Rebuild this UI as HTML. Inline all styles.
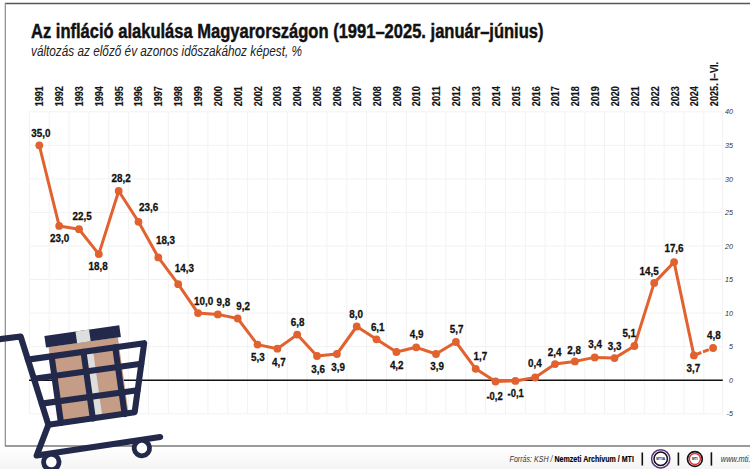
<!DOCTYPE html>
<html><head><meta charset="utf-8"><style>
html,body{margin:0;padding:0;background:#fff;}
body{width:750px;height:469px;overflow:hidden;}
svg{display:block;}
text{font-family:"Liberation Sans",sans-serif;}
</style></head><body>
<svg width="750" height="469" viewBox="0 0 750 469">
<defs><linearGradient id="fg" x1="0" y1="0" x2="0" y2="1"><stop offset="0" stop-color="#fff"/><stop offset="1" stop-color="#f4f4f4"/></linearGradient></defs>
<rect x="0" y="0" width="750" height="469" fill="#fff"/>
<rect x="0" y="446" width="750" height="23" fill="url(#fg)"/>

<line x1="5" y1="3.5" x2="750" y2="3.5" stroke="#555" stroke-width="1.3"/>
<line x1="5.3" y1="3" x2="5.3" y2="446" stroke="#8c8c8c" stroke-width="1.2"/>
<line x1="5" y1="446" x2="750" y2="446" stroke="#7a7a7a" stroke-width="1.5"/>
<text x="31" y="37.7" font-size="20" font-weight="bold" fill="#111" stroke="#111" stroke-width="0.45" textLength="512.5" lengthAdjust="spacingAndGlyphs">Az infláció alakulása Magyarországon (1991–2025. január–június)</text>
<text x="31" y="56" font-size="14.5" font-style="italic" fill="#222" textLength="271" lengthAdjust="spacingAndGlyphs">változás az előző év azonos időszakához képest, %</text>
<g stroke="#f2f2f2" stroke-width="1"><line x1="29.4" y1="111.8" x2="29.4" y2="413.8"/><line x1="49.2" y1="111.8" x2="49.2" y2="413.8"/><line x1="69.1" y1="111.8" x2="69.1" y2="413.8"/><line x1="88.9" y1="111.8" x2="88.9" y2="413.8"/><line x1="108.8" y1="111.8" x2="108.8" y2="413.8"/><line x1="128.6" y1="111.8" x2="128.6" y2="413.8"/><line x1="148.4" y1="111.8" x2="148.4" y2="413.8"/><line x1="168.3" y1="111.8" x2="168.3" y2="413.8"/><line x1="188.1" y1="111.8" x2="188.1" y2="413.8"/><line x1="207.9" y1="111.8" x2="207.9" y2="413.8"/><line x1="227.8" y1="111.8" x2="227.8" y2="413.8"/><line x1="247.6" y1="111.8" x2="247.6" y2="413.8"/><line x1="267.4" y1="111.8" x2="267.4" y2="413.8"/><line x1="287.3" y1="111.8" x2="287.3" y2="413.8"/><line x1="307.1" y1="111.8" x2="307.1" y2="413.8"/><line x1="326.9" y1="111.8" x2="326.9" y2="413.8"/><line x1="346.8" y1="111.8" x2="346.8" y2="413.8"/><line x1="366.6" y1="111.8" x2="366.6" y2="413.8"/><line x1="386.4" y1="111.8" x2="386.4" y2="413.8"/><line x1="406.3" y1="111.8" x2="406.3" y2="413.8"/><line x1="426.1" y1="111.8" x2="426.1" y2="413.8"/><line x1="445.9" y1="111.8" x2="445.9" y2="413.8"/><line x1="465.8" y1="111.8" x2="465.8" y2="413.8"/><line x1="485.6" y1="111.8" x2="485.6" y2="413.8"/><line x1="505.5" y1="111.8" x2="505.5" y2="413.8"/><line x1="525.3" y1="111.8" x2="525.3" y2="413.8"/><line x1="545.1" y1="111.8" x2="545.1" y2="413.8"/><line x1="565.0" y1="111.8" x2="565.0" y2="413.8"/><line x1="584.8" y1="111.8" x2="584.8" y2="413.8"/><line x1="604.6" y1="111.8" x2="604.6" y2="413.8"/><line x1="624.5" y1="111.8" x2="624.5" y2="413.8"/><line x1="644.3" y1="111.8" x2="644.3" y2="413.8"/><line x1="664.1" y1="111.8" x2="664.1" y2="413.8"/><line x1="684.0" y1="111.8" x2="684.0" y2="413.8"/><line x1="703.8" y1="111.8" x2="703.8" y2="413.8"/><line x1="722.6" y1="111.8" x2="722.6" y2="413.8"/><line x1="29.4" y1="413.8" x2="722.4" y2="413.8"/><line x1="29.4" y1="380.2" x2="722.4" y2="380.2"/><line x1="29.4" y1="346.6" x2="722.4" y2="346.6"/><line x1="29.4" y1="313.1" x2="722.4" y2="313.1"/><line x1="29.4" y1="279.5" x2="722.4" y2="279.5"/><line x1="29.4" y1="246.0" x2="722.4" y2="246.0"/><line x1="29.4" y1="212.4" x2="722.4" y2="212.4"/><line x1="29.4" y1="178.9" x2="722.4" y2="178.9"/><line x1="29.4" y1="145.3" x2="722.4" y2="145.3"/><line x1="29.4" y1="111.8" x2="722.4" y2="111.8"/></g>
<text x="733" y="416.4" font-size="7.2" font-style="italic" fill="#333" text-anchor="end">-5</text>
<text x="733" y="382.8" font-size="7.2" font-style="italic" fill="#333" text-anchor="end">0</text>
<text x="733" y="349.2" font-size="7.2" font-style="italic" fill="#333" text-anchor="end">5</text>
<text x="733" y="315.7" font-size="7.2" font-style="italic" fill="#333" text-anchor="end">10</text>
<text x="733" y="282.1" font-size="7.2" font-style="italic" fill="#333" text-anchor="end">15</text>
<text x="733" y="248.6" font-size="7.2" font-style="italic" fill="#333" text-anchor="end">20</text>
<text x="733" y="215.0" font-size="7.2" font-style="italic" fill="#333" text-anchor="end">25</text>
<text x="733" y="181.5" font-size="7.2" font-style="italic" fill="#333" text-anchor="end">30</text>
<text x="733" y="147.9" font-size="7.2" font-style="italic" fill="#333" text-anchor="end">35</text>
<text x="733" y="114.4" font-size="7.2" font-style="italic" fill="#333" text-anchor="end">40</text>
<line x1="29" y1="380.2" x2="722.8" y2="380.2" stroke="#111" stroke-width="1.5"/>
<text transform="translate(43.10,106.2) rotate(-90)" font-size="10.9" font-weight="bold" fill="#111" stroke="#111" stroke-width="0.15" textLength="20" lengthAdjust="spacingAndGlyphs">1991</text>
<text transform="translate(62.96,106.2) rotate(-90)" font-size="10.9" font-weight="bold" fill="#111" stroke="#111" stroke-width="0.15" textLength="20" lengthAdjust="spacingAndGlyphs">1992</text>
<text transform="translate(82.82,106.2) rotate(-90)" font-size="10.9" font-weight="bold" fill="#111" stroke="#111" stroke-width="0.15" textLength="20" lengthAdjust="spacingAndGlyphs">1993</text>
<text transform="translate(102.68,106.2) rotate(-90)" font-size="10.9" font-weight="bold" fill="#111" stroke="#111" stroke-width="0.15" textLength="20" lengthAdjust="spacingAndGlyphs">1994</text>
<text transform="translate(122.54,106.2) rotate(-90)" font-size="10.9" font-weight="bold" fill="#111" stroke="#111" stroke-width="0.15" textLength="20" lengthAdjust="spacingAndGlyphs">1995</text>
<text transform="translate(142.40,106.2) rotate(-90)" font-size="10.9" font-weight="bold" fill="#111" stroke="#111" stroke-width="0.15" textLength="20" lengthAdjust="spacingAndGlyphs">1996</text>
<text transform="translate(162.26,106.2) rotate(-90)" font-size="10.9" font-weight="bold" fill="#111" stroke="#111" stroke-width="0.15" textLength="20" lengthAdjust="spacingAndGlyphs">1997</text>
<text transform="translate(182.12,106.2) rotate(-90)" font-size="10.9" font-weight="bold" fill="#111" stroke="#111" stroke-width="0.15" textLength="20" lengthAdjust="spacingAndGlyphs">1998</text>
<text transform="translate(201.98,106.2) rotate(-90)" font-size="10.9" font-weight="bold" fill="#111" stroke="#111" stroke-width="0.15" textLength="20" lengthAdjust="spacingAndGlyphs">1999</text>
<text transform="translate(221.84,106.2) rotate(-90)" font-size="10.9" font-weight="bold" fill="#111" stroke="#111" stroke-width="0.15" textLength="20" lengthAdjust="spacingAndGlyphs">2000</text>
<text transform="translate(241.70,106.2) rotate(-90)" font-size="10.9" font-weight="bold" fill="#111" stroke="#111" stroke-width="0.15" textLength="20" lengthAdjust="spacingAndGlyphs">2001</text>
<text transform="translate(261.56,106.2) rotate(-90)" font-size="10.9" font-weight="bold" fill="#111" stroke="#111" stroke-width="0.15" textLength="20" lengthAdjust="spacingAndGlyphs">2002</text>
<text transform="translate(281.42,106.2) rotate(-90)" font-size="10.9" font-weight="bold" fill="#111" stroke="#111" stroke-width="0.15" textLength="20" lengthAdjust="spacingAndGlyphs">2003</text>
<text transform="translate(301.28,106.2) rotate(-90)" font-size="10.9" font-weight="bold" fill="#111" stroke="#111" stroke-width="0.15" textLength="20" lengthAdjust="spacingAndGlyphs">2004</text>
<text transform="translate(321.14,106.2) rotate(-90)" font-size="10.9" font-weight="bold" fill="#111" stroke="#111" stroke-width="0.15" textLength="20" lengthAdjust="spacingAndGlyphs">2005</text>
<text transform="translate(341.00,106.2) rotate(-90)" font-size="10.9" font-weight="bold" fill="#111" stroke="#111" stroke-width="0.15" textLength="20" lengthAdjust="spacingAndGlyphs">2006</text>
<text transform="translate(360.86,106.2) rotate(-90)" font-size="10.9" font-weight="bold" fill="#111" stroke="#111" stroke-width="0.15" textLength="20" lengthAdjust="spacingAndGlyphs">2007</text>
<text transform="translate(380.72,106.2) rotate(-90)" font-size="10.9" font-weight="bold" fill="#111" stroke="#111" stroke-width="0.15" textLength="20" lengthAdjust="spacingAndGlyphs">2008</text>
<text transform="translate(400.58,106.2) rotate(-90)" font-size="10.9" font-weight="bold" fill="#111" stroke="#111" stroke-width="0.15" textLength="20" lengthAdjust="spacingAndGlyphs">2009</text>
<text transform="translate(420.44,106.2) rotate(-90)" font-size="10.9" font-weight="bold" fill="#111" stroke="#111" stroke-width="0.15" textLength="20" lengthAdjust="spacingAndGlyphs">2010</text>
<text transform="translate(440.30,106.2) rotate(-90)" font-size="10.9" font-weight="bold" fill="#111" stroke="#111" stroke-width="0.15" textLength="20" lengthAdjust="spacingAndGlyphs">2011</text>
<text transform="translate(460.16,106.2) rotate(-90)" font-size="10.9" font-weight="bold" fill="#111" stroke="#111" stroke-width="0.15" textLength="20" lengthAdjust="spacingAndGlyphs">2012</text>
<text transform="translate(480.02,106.2) rotate(-90)" font-size="10.9" font-weight="bold" fill="#111" stroke="#111" stroke-width="0.15" textLength="20" lengthAdjust="spacingAndGlyphs">2013</text>
<text transform="translate(499.88,106.2) rotate(-90)" font-size="10.9" font-weight="bold" fill="#111" stroke="#111" stroke-width="0.15" textLength="20" lengthAdjust="spacingAndGlyphs">2014</text>
<text transform="translate(519.74,106.2) rotate(-90)" font-size="10.9" font-weight="bold" fill="#111" stroke="#111" stroke-width="0.15" textLength="20" lengthAdjust="spacingAndGlyphs">2015</text>
<text transform="translate(539.60,106.2) rotate(-90)" font-size="10.9" font-weight="bold" fill="#111" stroke="#111" stroke-width="0.15" textLength="20" lengthAdjust="spacingAndGlyphs">2016</text>
<text transform="translate(559.46,106.2) rotate(-90)" font-size="10.9" font-weight="bold" fill="#111" stroke="#111" stroke-width="0.15" textLength="20" lengthAdjust="spacingAndGlyphs">2017</text>
<text transform="translate(579.32,106.2) rotate(-90)" font-size="10.9" font-weight="bold" fill="#111" stroke="#111" stroke-width="0.15" textLength="20" lengthAdjust="spacingAndGlyphs">2018</text>
<text transform="translate(599.18,106.2) rotate(-90)" font-size="10.9" font-weight="bold" fill="#111" stroke="#111" stroke-width="0.15" textLength="20" lengthAdjust="spacingAndGlyphs">2019</text>
<text transform="translate(619.04,106.2) rotate(-90)" font-size="10.9" font-weight="bold" fill="#111" stroke="#111" stroke-width="0.15" textLength="20" lengthAdjust="spacingAndGlyphs">2020</text>
<text transform="translate(638.90,106.2) rotate(-90)" font-size="10.9" font-weight="bold" fill="#111" stroke="#111" stroke-width="0.15" textLength="20" lengthAdjust="spacingAndGlyphs">2021</text>
<text transform="translate(658.76,106.2) rotate(-90)" font-size="10.9" font-weight="bold" fill="#111" stroke="#111" stroke-width="0.15" textLength="20" lengthAdjust="spacingAndGlyphs">2022</text>
<text transform="translate(678.62,106.2) rotate(-90)" font-size="10.9" font-weight="bold" fill="#111" stroke="#111" stroke-width="0.15" textLength="20" lengthAdjust="spacingAndGlyphs">2023</text>
<text transform="translate(698.48,106.2) rotate(-90)" font-size="10.9" font-weight="bold" fill="#111" stroke="#111" stroke-width="0.15" textLength="20" lengthAdjust="spacingAndGlyphs">2024</text>
<text transform="translate(718.34,106.2) rotate(-90)" font-size="10.9" font-weight="bold" fill="#111" stroke="#111" stroke-width="0.15" textLength="44.3" lengthAdjust="spacingAndGlyphs">2025. I–VI.</text>
<polyline points="39.3,145.3 59.2,225.9 79.0,229.2 98.8,254.1 118.7,191.0 138.5,221.8 158.3,257.4 178.2,284.2 198.0,313.1 217.8,314.4 237.7,318.5 257.5,344.6 277.4,348.7 297.2,334.6 317.0,356.0 336.9,354.0 356.7,326.5 376.5,339.3 396.4,352.0 416.2,347.3 436.0,354.0 455.9,342.0 475.7,368.8 495.5,381.5 515.4,380.9 535.2,377.5 555.0,364.1 574.9,361.4 594.7,357.4 614.5,358.1 634.4,346.0 654.2,282.9 674.1,262.1 693.9,355.4" fill="none" stroke="#e1622f" stroke-width="3" stroke-linejoin="round"/>
<line x1="693.9" y1="355.4" x2="713.1" y2="348.0" stroke="#e1622f" stroke-width="3" stroke-dasharray="8,1.7,6.3,1.7,20"/>
<circle cx="39.3" cy="145.3" r="3.9" fill="#e1622f"/>
<circle cx="59.2" cy="225.9" r="3.9" fill="#e1622f"/>
<circle cx="79.0" cy="229.2" r="3.9" fill="#e1622f"/>
<circle cx="98.8" cy="254.1" r="3.9" fill="#e1622f"/>
<circle cx="118.7" cy="191.0" r="3.9" fill="#e1622f"/>
<circle cx="138.5" cy="221.8" r="3.9" fill="#e1622f"/>
<circle cx="158.3" cy="257.4" r="3.9" fill="#e1622f"/>
<circle cx="178.2" cy="284.2" r="3.9" fill="#e1622f"/>
<circle cx="198.0" cy="313.1" r="3.9" fill="#e1622f"/>
<circle cx="217.8" cy="314.4" r="3.9" fill="#e1622f"/>
<circle cx="237.7" cy="318.5" r="3.9" fill="#e1622f"/>
<circle cx="257.5" cy="344.6" r="3.9" fill="#e1622f"/>
<circle cx="277.4" cy="348.7" r="3.9" fill="#e1622f"/>
<circle cx="297.2" cy="334.6" r="3.9" fill="#e1622f"/>
<circle cx="317.0" cy="356.0" r="3.9" fill="#e1622f"/>
<circle cx="336.9" cy="354.0" r="3.9" fill="#e1622f"/>
<circle cx="356.7" cy="326.5" r="3.9" fill="#e1622f"/>
<circle cx="376.5" cy="339.3" r="3.9" fill="#e1622f"/>
<circle cx="396.4" cy="352.0" r="3.9" fill="#e1622f"/>
<circle cx="416.2" cy="347.3" r="3.9" fill="#e1622f"/>
<circle cx="436.0" cy="354.0" r="3.9" fill="#e1622f"/>
<circle cx="455.9" cy="342.0" r="3.9" fill="#e1622f"/>
<circle cx="475.7" cy="368.8" r="3.9" fill="#e1622f"/>
<circle cx="495.5" cy="381.5" r="3.9" fill="#e1622f"/>
<circle cx="515.4" cy="380.9" r="3.9" fill="#e1622f"/>
<circle cx="535.2" cy="377.5" r="3.9" fill="#e1622f"/>
<circle cx="555.0" cy="364.1" r="3.9" fill="#e1622f"/>
<circle cx="574.9" cy="361.4" r="3.9" fill="#e1622f"/>
<circle cx="594.7" cy="357.4" r="3.9" fill="#e1622f"/>
<circle cx="614.5" cy="358.1" r="3.9" fill="#e1622f"/>
<circle cx="634.4" cy="346.0" r="3.9" fill="#e1622f"/>
<circle cx="654.2" cy="282.9" r="3.9" fill="#e1622f"/>
<circle cx="674.1" cy="262.1" r="3.9" fill="#e1622f"/>
<circle cx="693.9" cy="355.4" r="3.9" fill="#e1622f"/>
<circle cx="713.1" cy="348.0" r="3.9" fill="#e1622f"/>
<text x="31.3" y="136.5" font-size="11.6" font-weight="bold" fill="#111" stroke="#111" stroke-width="0.3" textLength="19.2" lengthAdjust="spacingAndGlyphs">35,0</text>
<text x="50.1" y="242.1" font-size="11.6" font-weight="bold" fill="#111" stroke="#111" stroke-width="0.3" textLength="19.2" lengthAdjust="spacingAndGlyphs">23,0</text>
<text x="72.5" y="219.7" font-size="11.6" font-weight="bold" fill="#111" stroke="#111" stroke-width="0.3" textLength="19.2" lengthAdjust="spacingAndGlyphs">22,5</text>
<text x="88.5" y="270.2" font-size="11.6" font-weight="bold" fill="#111" stroke="#111" stroke-width="0.3" textLength="19.2" lengthAdjust="spacingAndGlyphs">18,8</text>
<text x="111.5" y="181.7" font-size="11.6" font-weight="bold" fill="#111" stroke="#111" stroke-width="0.3" textLength="19.2" lengthAdjust="spacingAndGlyphs">28,2</text>
<text x="139.0" y="210.6" font-size="11.6" font-weight="bold" fill="#111" stroke="#111" stroke-width="0.3" textLength="19.2" lengthAdjust="spacingAndGlyphs">23,6</text>
<text x="155.9" y="243.8" font-size="11.6" font-weight="bold" fill="#111" stroke="#111" stroke-width="0.3" textLength="19.2" lengthAdjust="spacingAndGlyphs">18,3</text>
<text x="174.7" y="272.4" font-size="11.6" font-weight="bold" fill="#111" stroke="#111" stroke-width="0.3" textLength="19.2" lengthAdjust="spacingAndGlyphs">14,3</text>
<text x="194.0" y="304.5" font-size="11.6" font-weight="bold" fill="#111" stroke="#111" stroke-width="0.3" textLength="19.2" lengthAdjust="spacingAndGlyphs">10,0</text>
<text x="216.5" y="306.1" font-size="11.6" font-weight="bold" fill="#111" stroke="#111" stroke-width="0.3" textLength="13.7" lengthAdjust="spacingAndGlyphs">9,8</text>
<text x="236.2" y="310.4" font-size="11.6" font-weight="bold" fill="#111" stroke="#111" stroke-width="0.3" textLength="13.7" lengthAdjust="spacingAndGlyphs">9,2</text>
<text x="251.0" y="360.8" font-size="11.6" font-weight="bold" fill="#111" stroke="#111" stroke-width="0.3" textLength="13.7" lengthAdjust="spacingAndGlyphs">5,3</text>
<text x="272.1" y="366.1" font-size="11.6" font-weight="bold" fill="#111" stroke="#111" stroke-width="0.3" textLength="13.7" lengthAdjust="spacingAndGlyphs">4,7</text>
<text x="290.8" y="325.6" font-size="11.6" font-weight="bold" fill="#111" stroke="#111" stroke-width="0.3" textLength="13.7" lengthAdjust="spacingAndGlyphs">6,8</text>
<text x="311.2" y="372.5" font-size="11.6" font-weight="bold" fill="#111" stroke="#111" stroke-width="0.3" textLength="13.7" lengthAdjust="spacingAndGlyphs">3,6</text>
<text x="331.3" y="370.9" font-size="11.6" font-weight="bold" fill="#111" stroke="#111" stroke-width="0.3" textLength="13.7" lengthAdjust="spacingAndGlyphs">3,9</text>
<text x="349.3" y="318.2" font-size="11.6" font-weight="bold" fill="#111" stroke="#111" stroke-width="0.3" textLength="13.7" lengthAdjust="spacingAndGlyphs">8,0</text>
<text x="370.9" y="330.9" font-size="11.6" font-weight="bold" fill="#111" stroke="#111" stroke-width="0.3" textLength="13.7" lengthAdjust="spacingAndGlyphs">6,1</text>
<text x="389.9" y="368.6" font-size="11.6" font-weight="bold" fill="#111" stroke="#111" stroke-width="0.3" textLength="13.7" lengthAdjust="spacingAndGlyphs">4,2</text>
<text x="409.8" y="337.9" font-size="11.6" font-weight="bold" fill="#111" stroke="#111" stroke-width="0.3" textLength="13.7" lengthAdjust="spacingAndGlyphs">4,9</text>
<text x="430.2" y="369.7" font-size="11.6" font-weight="bold" fill="#111" stroke="#111" stroke-width="0.3" textLength="13.7" lengthAdjust="spacingAndGlyphs">3,9</text>
<text x="449.8" y="333.4" font-size="11.6" font-weight="bold" fill="#111" stroke="#111" stroke-width="0.3" textLength="13.7" lengthAdjust="spacingAndGlyphs">5,7</text>
<text x="473.5" y="360.4" font-size="11.6" font-weight="bold" fill="#111" stroke="#111" stroke-width="0.3" textLength="13.7" lengthAdjust="spacingAndGlyphs">1,7</text>
<text x="486.4" y="399.5" font-size="11.6" font-weight="bold" fill="#111" stroke="#111" stroke-width="0.3" textLength="16.3" lengthAdjust="spacingAndGlyphs">-0,2</text>
<text x="507.5" y="397.2" font-size="11.6" font-weight="bold" fill="#111" stroke="#111" stroke-width="0.3" textLength="16.3" lengthAdjust="spacingAndGlyphs">-0,1</text>
<text x="528.1" y="366.7" font-size="11.6" font-weight="bold" fill="#111" stroke="#111" stroke-width="0.3" textLength="13.7" lengthAdjust="spacingAndGlyphs">0,4</text>
<text x="547.8" y="356.1" font-size="11.6" font-weight="bold" fill="#111" stroke="#111" stroke-width="0.3" textLength="13.7" lengthAdjust="spacingAndGlyphs">2,4</text>
<text x="567.2" y="353.8" font-size="11.6" font-weight="bold" fill="#111" stroke="#111" stroke-width="0.3" textLength="13.7" lengthAdjust="spacingAndGlyphs">2,8</text>
<text x="588.3" y="348.4" font-size="11.6" font-weight="bold" fill="#111" stroke="#111" stroke-width="0.3" textLength="13.7" lengthAdjust="spacingAndGlyphs">3,4</text>
<text x="607.7" y="349.8" font-size="11.6" font-weight="bold" fill="#111" stroke="#111" stroke-width="0.3" textLength="13.7" lengthAdjust="spacingAndGlyphs">3,3</text>
<text x="622.4" y="337.2" font-size="11.6" font-weight="bold" fill="#111" stroke="#111" stroke-width="0.3" textLength="13.7" lengthAdjust="spacingAndGlyphs">5,1</text>
<text x="639.5" y="275.1" font-size="11.6" font-weight="bold" fill="#111" stroke="#111" stroke-width="0.3" textLength="19.2" lengthAdjust="spacingAndGlyphs">14,5</text>
<text x="664.4" y="251.9" font-size="11.6" font-weight="bold" fill="#111" stroke="#111" stroke-width="0.3" textLength="19.2" lengthAdjust="spacingAndGlyphs">17,6</text>
<text x="686.5" y="371.9" font-size="11.6" font-weight="bold" fill="#111" stroke="#111" stroke-width="0.3" textLength="13.7" lengthAdjust="spacingAndGlyphs">3,7</text>
<text x="707.1" y="338.9" font-size="11.6" font-weight="bold" fill="#111" stroke="#111" stroke-width="0.3" textLength="13.7" lengthAdjust="spacingAndGlyphs">4,8</text>
<g transform="translate(48.4,424.8) rotate(-8)">
<rect x="11" y="-77" width="70" height="77" fill="#c59c86"/>
<rect x="46.5" y="-67" width="8" height="67" fill="#dedede"/>
<rect x="8.4" y="-88.6" width="75.6" height="11.8" fill="#23294a"/>
<rect x="39.8" y="-88.6" width="13.7" height="11.8" fill="#dedede"/>
<g fill="none" stroke="#23294a" stroke-width="6.1" stroke-linecap="round" stroke-linejoin="round">
<polyline points="-42,-91.6 -15.2,-91.3 0,0 -15.9,28.8 109,27.6"/>
<polyline points="-11.3,-67.4 106.2,-67.5 87.2,-0.5 0,0"/>
<line x1="-7.9" y1="-47.6" x2="100.4" y2="-47.6"/>
<line x1="-3.6" y1="-21.9" x2="93.1" y2="-21.9"/>
<line x1="12.7" y1="-67.4" x2="12.7" y2="0"/>
<line x1="44.9" y1="-67.4" x2="44.9" y2="0"/>
<line x1="77" y1="-67.4" x2="77" y2="0"/>
</g>
<circle cx="-2.3" cy="37.3" r="7.7" fill="#fff" stroke="#23294a" stroke-width="4.8"/>
<circle cx="89.3" cy="36.1" r="7.7" fill="#fff" stroke="#23294a" stroke-width="4.8"/>
</g>
<text x="509.6" y="461.7" font-size="9.9" fill="#222" textLength="124.3" lengthAdjust="spacingAndGlyphs"><tspan font-style="italic" fill="#333">Forrás: KSH / </tspan><tspan font-weight="bold" fill="#000" stroke="#000" stroke-width="0.15">Nemzeti Archívum / MTI</tspan></text>
<g stroke="#111" stroke-width="1.6"><line x1="642.3" y1="452.5" x2="642.3" y2="465.5"/><line x1="678.4" y1="452.5" x2="678.4" y2="465.5"/><line x1="711.4" y1="452.3" x2="711.4" y2="465.6"/></g>
<circle cx="660.7" cy="458.8" r="9.1" fill="#fff" stroke="#5b2d82" stroke-width="1.5"/>
<circle cx="660.7" cy="458.8" r="6.7" fill="#fff" stroke="#111" stroke-width="1.5"/>
<text x="660.7" y="460" font-size="3.2" font-weight="bold" text-anchor="middle" fill="#111">MTVA</text>
<circle cx="694.9" cy="459" r="7.4" fill="#fff" stroke="#111" stroke-width="1.7"/>
<circle cx="694.9" cy="459" r="5.5" fill="#fff" stroke="#d8383a" stroke-width="1.4"/>
<text x="694.8" y="460.1" font-size="3.2" font-weight="bold" text-anchor="middle" fill="#111">MTI</text>
<text x="720.8" y="461.7" font-size="9.7" font-style="italic" fill="#333" textLength="38" lengthAdjust="spacingAndGlyphs">www.mti.hu</text>
</svg></body></html>
